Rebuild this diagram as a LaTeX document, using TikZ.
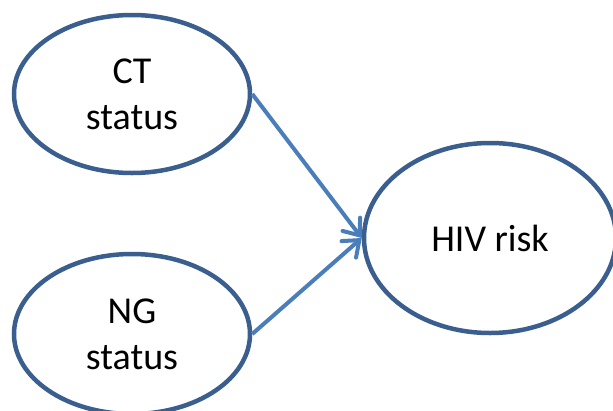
\documentclass[tikz,border=0pt]{standalone}
\usepackage{fontspec}
\setmainfont{Carlito}
\usetikzlibrary{shapes.geometric,arrows.meta}
\definecolor{ovalblue}{HTML}{3A5F8F}
\definecolor{arrowblue}{HTML}{4A7EBB}
\begin{document}
\begin{tikzpicture}[x=1pt, y=-1pt,
		every node/.style={ellipse, draw=ovalblue, line width=4.5pt, align=center, font=\fontsize{38}{46}\selectfont},
		arr/.style={-{Straight Barb[length=14pt, width=22pt, line cap=round]}, arrowblue, line width=4pt}]
		\useasboundingbox (0,0) rectangle (613,410);
		\node[minimum width=236pt, minimum height=158pt] (ct) at (132,94) {CT\\status};
		\node[minimum width=236pt, minimum height=160pt] (ng) at (132,334) {NG\\status};
		\node[minimum width=252pt, minimum height=190pt] (hiv) at (490,238) {HIV risk};

		\draw[arr] (ct.east) -- (hiv.west);
		\draw[arr] (ng.east) -- (hiv.west);
	\end{tikzpicture}
\end{document}
